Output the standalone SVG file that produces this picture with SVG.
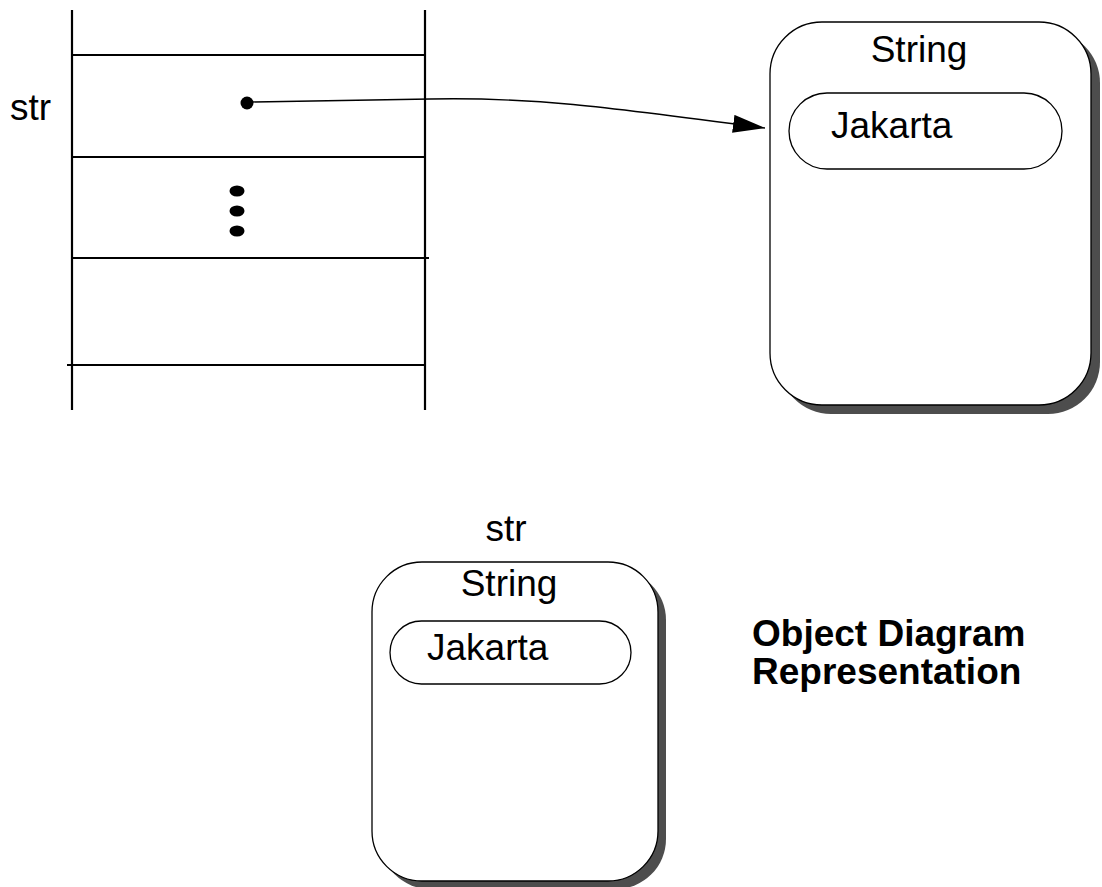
<svg xmlns="http://www.w3.org/2000/svg" width="1102" height="887" viewBox="0 0 1102 887">
<style>
.ln{stroke:#000;stroke-width:2.2;fill:none}
.t{font-family:"Liberation Sans",Arial,sans-serif;font-size:37px;fill:#000}
.b{font-family:"Liberation Sans",Arial,sans-serif;font-size:37px;font-weight:bold;fill:#000}
.box{fill:#fff;stroke:#000;stroke-width:1.3}
.sh{fill:#4d4d4d}
</style>
<defs>
<marker id="arr" markerWidth="32" markerHeight="18" refX="32" refY="9" orient="auto" markerUnits="userSpaceOnUse">
<path d="M0,0 L32,9 L0,18 Z" fill="#000"/>
</marker>
</defs>
<g id="stack">
<line class="ln" x1="72" y1="10" x2="72" y2="410"/>
<line class="ln" x1="425" y1="10" x2="425" y2="410"/>
<line class="ln" x1="72" y1="55" x2="425" y2="55"/>
<line class="ln" x1="72" y1="157" x2="425" y2="157"/>
<line class="ln" x1="72" y1="258" x2="429" y2="258"/>
<line class="ln" x1="67" y1="365" x2="425" y2="365"/>
<text class="t" x="10" y="120">str</text>
<circle cx="247" cy="103" r="6.5"/>
<ellipse cx="237" cy="191" rx="7.5" ry="5.5"/>
<ellipse cx="237" cy="211" rx="7.5" ry="5.5"/>
<ellipse cx="237" cy="231" rx="7.5" ry="5.5"/>
</g>
<g id="connectors">
<path d="M253,102 L430,99 C530,97 600,106 765,128" fill="none" stroke="#000" stroke-width="1.3" marker-end="url(#arr)"/>
</g>
<g id="stringTop">
<rect class="sh" x="779" y="31" width="321" height="383" rx="52"/>
<rect class="box" x="770" y="22" width="321" height="383" rx="52"/>
<text class="t" x="919" y="62" text-anchor="middle">String</text>
<rect class="box" x="789" y="93" width="273" height="76" rx="38"/>
<text class="t" x="831" y="138">Jakarta</text>
</g>
<g id="stringBottom">
<text class="t" x="506" y="541" text-anchor="middle">str</text>
<rect class="sh" x="380" y="570" width="286" height="319" rx="50"/>
<rect class="box" x="372" y="562" width="286" height="319" rx="50"/>
<text class="t" x="509" y="596" text-anchor="middle">String</text>
<rect class="box" x="390" y="621" width="241" height="63" rx="31.5"/>
<text class="t" x="427" y="660">Jakarta</text>
</g>
<g id="caption">
<text class="b" x="752" y="646">Object Diagram</text>
<text class="b" x="752" y="684">Representation</text>
</g>
</svg>
